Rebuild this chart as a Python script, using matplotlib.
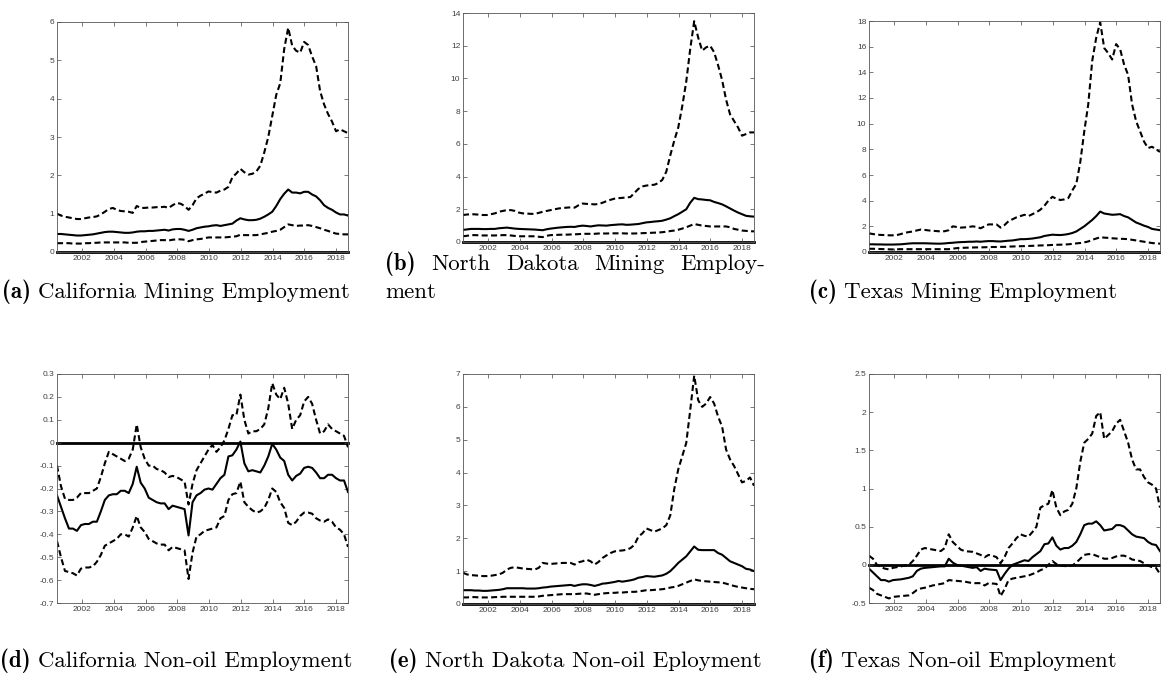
import numpy as np
import matplotlib
matplotlib.use("Agg")
import matplotlib.pyplot as plt
from matplotlib.ticker import FormatStrFormatter

plt.rcParams['axes.unicode_minus'] = False

# quarterly dates, 2000Q2 .. 2018Q3
dates = np.linspace(2000.42, 2018.75, 74)

# (a) California mining employment: upper band, median, lower band
ca_hi = [1.00, 0.95,
         0.92, 0.90, 0.88, 0.86, 0.86, 0.88, 0.90, 0.91, 0.93, 0.98, 1.05, 1.12,
         1.15, 1.10, 1.07, 1.06, 1.05, 1.02, 1.20, 1.15, 1.15, 1.16, 1.16, 1.17,
         1.17, 1.18, 1.15, 1.22, 1.28, 1.26, 1.20, 1.10, 1.22, 1.40, 1.47, 1.52,
         1.58, 1.56, 1.55, 1.60, 1.63, 1.70, 1.95, 2.05, 2.17, 2.08, 2.02, 2.04,
         2.10, 2.25, 2.60, 3.00, 3.55, 4.10, 4.40, 5.30, 5.85, 5.38, 5.25, 5.20,
         5.48, 5.40, 5.10, 4.85, 4.20, 3.85, 3.60, 3.40, 3.15, 3.20, 3.15, 3.10]
ca_md = [0.47, 0.47,
         0.46, 0.45, 0.44, 0.43, 0.43, 0.44, 0.45, 0.46, 0.48, 0.50, 0.52, 0.53,
         0.53, 0.52, 0.51, 0.50, 0.50, 0.51, 0.53, 0.54, 0.54, 0.55, 0.55, 0.56,
         0.57, 0.58, 0.56, 0.59, 0.60, 0.60, 0.58, 0.55, 0.58, 0.62, 0.64, 0.66,
         0.67, 0.69, 0.70, 0.68, 0.70, 0.72, 0.74, 0.82, 0.88, 0.85, 0.83, 0.83,
         0.84, 0.87, 0.92, 0.98, 1.05, 1.20, 1.38, 1.52, 1.63, 1.55, 1.55, 1.53,
         1.57, 1.57, 1.50, 1.45, 1.35, 1.22, 1.15, 1.10, 1.03, 0.98, 0.98, 0.95]
ca_lo = [0.23, 0.23,
         0.23, 0.23, 0.22, 0.22, 0.22, 0.23, 0.23, 0.24, 0.24, 0.25, 0.25, 0.25,
         0.25, 0.25, 0.25, 0.25, 0.24, 0.24, 0.24, 0.26, 0.27, 0.28, 0.29, 0.30,
         0.31, 0.31, 0.30, 0.32, 0.33, 0.33, 0.32, 0.28, 0.31, 0.33, 0.34, 0.36,
         0.38, 0.38, 0.38, 0.38, 0.38, 0.39, 0.40, 0.41, 0.45, 0.44, 0.44, 0.44,
         0.44, 0.46, 0.48, 0.50, 0.53, 0.55, 0.58, 0.65, 0.72, 0.70, 0.68, 0.69,
         0.69, 0.70, 0.68, 0.65, 0.62, 0.58, 0.55, 0.51, 0.48, 0.47, 0.46, 0.46]

# (b) North Dakota mining employment
nd_hi = [1.65, 1.68,
         1.70, 1.69, 1.67, 1.65, 1.65, 1.70, 1.75, 1.85, 1.90, 1.95, 1.95, 1.90,
         1.80, 1.75, 1.74, 1.72, 1.72, 1.78, 1.85, 1.90, 1.95, 2.00, 2.05, 2.08,
         2.10, 2.12, 2.10, 2.25, 2.35, 2.33, 2.32, 2.30, 2.32, 2.40, 2.50, 2.58,
         2.65, 2.68, 2.70, 2.72, 2.75, 3.00, 3.25, 3.40, 3.45, 3.48, 3.50, 3.60,
         3.80, 4.30, 5.30, 6.20, 7.00, 8.30, 9.80, 11.80, 13.50, 12.50, 11.70, 11.90,
         12.00, 11.60, 10.80, 9.90, 8.70, 7.80, 7.40, 7.00, 6.50, 6.60, 6.70, 6.70]
nd_md = [0.74, 0.77,
         0.80, 0.80, 0.80, 0.79, 0.79, 0.80, 0.80, 0.84, 0.86, 0.88, 0.85, 0.82,
         0.80, 0.79, 0.78, 0.77, 0.76, 0.74, 0.72, 0.78, 0.82, 0.85, 0.88, 0.90,
         0.92, 0.93, 0.92, 0.97, 1.00, 0.98, 0.95, 0.99, 1.02, 1.01, 1.00, 1.03,
         1.05, 1.07, 1.08, 1.05, 1.06, 1.08, 1.10, 1.15, 1.20, 1.22, 1.25, 1.27,
         1.30, 1.37, 1.45, 1.58, 1.70, 1.85, 2.00, 2.40, 2.70, 2.62, 2.60, 2.57,
         2.55, 2.45, 2.38, 2.30, 2.18, 2.05, 1.92, 1.80, 1.70, 1.60, 1.57, 1.55]
nd_lo = [0.35, 0.38,
         0.42, 0.42, 0.41, 0.40, 0.40, 0.40, 0.40, 0.41, 0.42, 0.42, 0.40, 0.37,
         0.35, 0.35, 0.35, 0.35, 0.35, 0.32, 0.30, 0.38, 0.42, 0.43, 0.44, 0.45,
         0.45, 0.46, 0.47, 0.48, 0.50, 0.50, 0.50, 0.50, 0.52, 0.52, 0.52, 0.53,
         0.53, 0.53, 0.53, 0.52, 0.52, 0.52, 0.53, 0.54, 0.55, 0.56, 0.57, 0.58,
         0.60, 0.63, 0.67, 0.70, 0.75, 0.82, 0.90, 1.00, 1.10, 1.05, 1.00, 0.98,
         0.95, 0.95, 0.95, 0.95, 0.95, 0.90, 0.80, 0.75, 0.70, 0.68, 0.66, 0.65]

# (c) Texas mining employment
tx_hi = [1.45, 1.40,
         1.35, 1.33, 1.32, 1.30, 1.30, 1.32, 1.40, 1.50, 1.55, 1.60, 1.68, 1.75,
         1.72, 1.68, 1.65, 1.63, 1.60, 1.62, 1.70, 2.00, 1.95, 1.90, 1.92, 1.95,
         2.00, 1.95, 1.85, 2.00, 2.15, 2.15, 2.15, 1.90, 2.10, 2.40, 2.55, 2.70,
         2.80, 2.90, 2.80, 2.95, 3.10, 3.30, 3.60, 4.00, 4.30, 4.15, 4.05, 4.10,
         4.20, 4.80, 5.30, 7.00, 9.40, 11.50, 14.90, 16.70, 17.90, 15.90, 15.50, 15.00,
         16.20, 15.80, 14.60, 13.80, 11.50, 10.20, 9.40, 8.60, 8.10, 8.20, 8.00, 7.80]
tx_md = [0.60, 0.60,
         0.59, 0.59, 0.58, 0.58, 0.58, 0.59, 0.60, 0.63, 0.66, 0.68, 0.68, 0.68,
         0.68, 0.67, 0.66, 0.65, 0.65, 0.67, 0.70, 0.72, 0.75, 0.77, 0.78, 0.80,
         0.80, 0.82, 0.80, 0.83, 0.85, 0.85, 0.83, 0.82, 0.85, 0.88, 0.90, 0.95,
         1.00, 1.00, 1.02, 1.05, 1.10, 1.15, 1.25, 1.30, 1.35, 1.33, 1.32, 1.35,
         1.40, 1.48, 1.60, 1.80, 2.00, 2.25, 2.50, 2.80, 3.15, 3.00, 2.95, 2.90,
         2.92, 2.95, 2.80, 2.70, 2.50, 2.30, 2.18, 2.05, 1.95, 1.80, 1.75, 1.70]
tx_lo = [0.25, 0.25,
         0.24, 0.23, 0.22, 0.21, 0.20, 0.21, 0.22, 0.22, 0.22, 0.22, 0.22, 0.22,
         0.22, 0.22, 0.22, 0.22, 0.22, 0.22, 0.22, 0.26, 0.30, 0.32, 0.33, 0.34,
         0.35, 0.36, 0.36, 0.37, 0.38, 0.39, 0.39, 0.40, 0.40, 0.42, 0.43, 0.44,
         0.45, 0.46, 0.47, 0.48, 0.50, 0.51, 0.52, 0.53, 0.55, 0.56, 0.57, 0.58,
         0.60, 0.63, 0.67, 0.70, 0.75, 0.82, 0.95, 1.05, 1.15, 1.12, 1.10, 1.07,
         1.05, 1.03, 1.02, 1.00, 0.95, 0.90, 0.85, 0.80, 0.75, 0.70, 0.67, 0.65]

# (d) California non-oil employment
ca_no_hi = [-0.10, -0.19,
            -0.245, -0.25, -0.25, -0.24, -0.22, -0.22, -0.22, -0.21, -0.20, -0.15, -0.09, -0.04,
            -0.05, -0.06, -0.07, -0.08, -0.07, -0.03, 0.08, -0.02, -0.07, -0.10, -0.10, -0.115,
            -0.12, -0.13, -0.15, -0.145, -0.15, -0.16, -0.17, -0.27, -0.18, -0.12, -0.09, -0.06,
            -0.03, -0.01, -0.04, -0.02, 0.01, 0.06, 0.12, 0.12, 0.21, 0.10, 0.04, 0.05,
            0.05, 0.06, 0.08, 0.15, 0.26, 0.21, 0.19, 0.24, 0.17, 0.06, 0.10, 0.12,
            0.18, 0.20, 0.17, 0.10, 0.04, 0.05, 0.08, 0.06, 0.05, 0.04, 0.03, -0.02]
ca_no_md = [-0.23, -0.28,
            -0.33, -0.375, -0.375, -0.385, -0.36, -0.355, -0.355, -0.345, -0.345, -0.30, -0.25, -0.23,
            -0.225, -0.225, -0.21, -0.21, -0.22, -0.18, -0.105, -0.175, -0.20, -0.24, -0.25, -0.26,
            -0.265, -0.265, -0.29, -0.275, -0.28, -0.285, -0.29, -0.405, -0.26, -0.23, -0.22, -0.205,
            -0.20, -0.205, -0.18, -0.155, -0.14, -0.06, -0.055, -0.03, 0.005, -0.09, -0.125, -0.12,
            -0.125, -0.13, -0.10, -0.06, -0.005, -0.03, -0.065, -0.08, -0.14, -0.165, -0.145, -0.135,
            -0.11, -0.105, -0.11, -0.13, -0.155, -0.155, -0.14, -0.14, -0.155, -0.165, -0.165, -0.215]
ca_no_lo = [-0.43, -0.50,
            -0.56, -0.565, -0.57, -0.58, -0.55, -0.545, -0.545, -0.54, -0.52, -0.49, -0.45, -0.44,
            -0.43, -0.42, -0.40, -0.40, -0.41, -0.37, -0.32, -0.37, -0.39, -0.42, -0.43, -0.44,
            -0.445, -0.445, -0.47, -0.455, -0.46, -0.465, -0.47, -0.595, -0.48, -0.41, -0.40, -0.385,
            -0.38, -0.375, -0.37, -0.33, -0.32, -0.25, -0.225, -0.22, -0.17, -0.26, -0.28, -0.295,
            -0.305, -0.30, -0.285, -0.25, -0.20, -0.215, -0.26, -0.285, -0.35, -0.36, -0.345, -0.32,
            -0.305, -0.305, -0.31, -0.33, -0.34, -0.345, -0.335, -0.345, -0.37, -0.38, -0.40, -0.455]

# (e) North Dakota non-oil employment
nd_no_hi = [0.95, 0.90,
            0.88, 0.87, 0.86, 0.85, 0.85, 0.86, 0.88, 0.90, 0.95, 1.05, 1.10, 1.12,
            1.10, 1.08, 1.07, 1.06, 1.05, 1.10, 1.25, 1.23, 1.22, 1.23, 1.24, 1.25,
            1.25, 1.25, 1.20, 1.27, 1.30, 1.35, 1.30, 1.20, 1.28, 1.40, 1.48, 1.55,
            1.60, 1.62, 1.63, 1.65, 1.70, 1.80, 2.05, 2.15, 2.30, 2.25, 2.20, 2.25,
            2.30, 2.40, 2.70, 3.50, 4.10, 4.50, 4.90, 5.90, 6.95, 6.20, 6.00, 6.10,
            6.30, 6.10, 5.70, 5.40, 4.70, 4.40, 4.20, 3.95, 3.70, 3.75, 3.85, 3.60]
nd_no_md = [0.42, 0.42,
            0.42, 0.41, 0.41, 0.40, 0.40, 0.41, 0.42, 0.43, 0.45, 0.48, 0.48, 0.48,
            0.48, 0.48, 0.47, 0.47, 0.47, 0.48, 0.50, 0.51, 0.53, 0.54, 0.55, 0.56,
            0.57, 0.58, 0.55, 0.58, 0.60, 0.60, 0.58, 0.55, 0.58, 0.62, 0.63, 0.65,
            0.67, 0.70, 0.68, 0.70, 0.72, 0.75, 0.80, 0.82, 0.85, 0.84, 0.83, 0.85,
            0.87, 0.92, 1.00, 1.12, 1.25, 1.35, 1.45, 1.60, 1.75, 1.65, 1.64, 1.64,
            1.64, 1.64, 1.55, 1.50, 1.40, 1.30, 1.25, 1.20, 1.15, 1.07, 1.05, 1.00]
nd_no_lo = [0.20, 0.20,
            0.21, 0.21, 0.20, 0.20, 0.20, 0.20, 0.21, 0.21, 0.22, 0.22, 0.22, 0.22,
            0.22, 0.22, 0.22, 0.22, 0.22, 0.23, 0.25, 0.26, 0.27, 0.28, 0.29, 0.30,
            0.30, 0.30, 0.30, 0.31, 0.32, 0.32, 0.30, 0.28, 0.30, 0.32, 0.33, 0.34,
            0.34, 0.35, 0.35, 0.36, 0.37, 0.37, 0.38, 0.40, 0.42, 0.42, 0.43, 0.44,
            0.45, 0.47, 0.50, 0.52, 0.55, 0.60, 0.65, 0.70, 0.75, 0.72, 0.70, 0.69,
            0.68, 0.67, 0.66, 0.65, 0.62, 0.58, 0.55, 0.52, 0.50, 0.48, 0.46, 0.45]

# (f) Texas non-oil employment
tx_no_hi = [0.12, 0.08,
            0.00, -0.03, -0.05, -0.06, -0.04, -0.03, -0.02, -0.01, 0.00, 0.05, 0.12, 0.20,
            0.22, 0.21, 0.20, 0.19, 0.18, 0.22, 0.40, 0.30, 0.25, 0.20, 0.18, 0.175,
            0.17, 0.15, 0.13, 0.10, 0.13, 0.12, 0.10, 0.02, 0.10, 0.22, 0.28, 0.35,
            0.40, 0.38, 0.37, 0.43, 0.50, 0.75, 0.78, 0.80, 0.98, 0.75, 0.65, 0.70,
            0.72, 0.80, 1.00, 1.35, 1.60, 1.65, 1.72, 1.95, 2.00, 1.65, 1.70, 1.75,
            1.85, 1.90, 1.75, 1.60, 1.38, 1.25, 1.25, 1.15, 1.08, 1.05, 1.00, 0.75]
tx_no_md = [-0.05, -0.10,
            -0.15, -0.20, -0.20, -0.22, -0.20, -0.195, -0.19, -0.18, -0.17, -0.15, -0.08, -0.05,
            -0.04, -0.035, -0.03, -0.025, -0.02, -0.02, 0.08, 0.03, 0.00, -0.01, -0.02, -0.03,
            -0.04, -0.03, -0.08, -0.05, -0.06, -0.065, -0.07, -0.20, -0.12, -0.05, 0.00, 0.02,
            0.04, 0.06, 0.05, 0.10, 0.14, 0.18, 0.27, 0.28, 0.36, 0.25, 0.20, 0.22,
            0.22, 0.25, 0.30, 0.40, 0.52, 0.54, 0.54, 0.57, 0.52, 0.45, 0.46, 0.47,
            0.52, 0.52, 0.50, 0.45, 0.40, 0.37, 0.36, 0.35, 0.30, 0.27, 0.26, 0.18]
tx_no_lo = [-0.30, -0.33,
            -0.38, -0.40, -0.42, -0.44, -0.42, -0.415, -0.41, -0.405, -0.40, -0.37, -0.33, -0.31,
            -0.30, -0.285, -0.27, -0.26, -0.25, -0.24, -0.20, -0.205, -0.21, -0.215, -0.22, -0.23,
            -0.24, -0.24, -0.24, -0.27, -0.24, -0.245, -0.25, -0.41, -0.32, -0.20, -0.18, -0.17,
            -0.16, -0.15, -0.14, -0.12, -0.10, -0.07, -0.05, 0.00, 0.05, 0.01, -0.01, -0.015,
            -0.02, -0.01, 0.03, 0.08, 0.13, 0.14, 0.14, 0.12, 0.10, 0.08, 0.08, 0.09,
            0.11, 0.12, 0.12, 0.10, 0.07, 0.06, 0.05, 0.02, -0.01, -0.03, -0.04, -0.12]

panels = [
    (ca_hi, ca_md, ca_lo, (0, 6), np.arange(0, 7, 1)),
    (nd_hi, nd_md, nd_lo, (0, 14), np.arange(0, 15, 2)),
    (tx_hi, tx_md, tx_lo, (0, 18), np.arange(0, 19, 2)),
    (ca_no_hi, ca_no_md, ca_no_lo, (-0.7, 0.3), np.arange(-7, 4) / 10),
    (nd_no_hi, nd_no_md, nd_no_lo, (0, 7), np.arange(0, 8, 1)),
    (tx_no_hi, tx_no_md, tx_no_lo, (-0.5, 2.5), np.arange(-1, 6) / 2),
]

# axes boxes in pixels: left, top, right, bottom
boxes = [(57, 22, 348, 252), (463, 13, 754, 242), (869, 21, 1160, 252),
         (57, 374, 348, 603), (463, 374, 754, 604), (869, 374, 1160, 603)]

W, H = 1161, 681
fig = plt.figure(figsize=(W / 100, H / 100), dpi=100)

dash = (0, (2.9, 1.6))
for (hi, md, lo, ylim, yticks), (l, t, r, b) in zip(panels, boxes):
    ax = fig.add_axes([l / W, 1 - b / H, (r - l) / W, (b - t) / H])
    ax.axhline(0, color='black', lw=2.0, clip_on=False, zorder=1)
    ax.plot(dates, hi, color='black', lw=1.5, linestyle=dash)
    ax.plot(dates, md, color='black', lw=1.5)
    ax.plot(dates, lo, color='black', lw=1.5, linestyle=dash)
    ax.set_xlim(2000.42, 2018.75)
    ax.set_ylim(*ylim)
    ax.set_xticks(np.arange(2002, 2019, 2))
    ax.set_yticks(yticks)
    ax.yaxis.set_major_formatter(FormatStrFormatter('%g'))
    ax.tick_params(direction='in', length=3, width=0.5, top=True, right=True,
                   color='#444444', labelcolor='#404040', labelsize=6, pad=2,
                   labelfontfamily='Liberation Sans')
    for s in ax.spines.values():
        s.set_color('#555555')
        s.set_linewidth(0.6)

# captions in Computer Modern, bold label + regular text
fs = 16.5
rend = fig.canvas.get_renderer()

def width(s, fam):
    t = fig.text(0, 0, s, fontfamily=fam, fontsize=fs)
    w = t.get_window_extent(rend).width
    t.remove()
    return w

space = width('a a', 'cmr10') - width('aa', 'cmr10')

def put(x, y, s, fam):
    fig.text(x / W, 1 - y / H, s, fontfamily=fam, fontsize=fs,
             ha='left', va='center')

def caption(cx, y, tag, text):
    lab = '(' + tag + ')'
    total = width(lab, 'cmb10') + space + width(text, 'cmr10')
    x0 = cx - total / 2
    put(x0, y, lab, 'cmb10')
    put(x0 + width(lab, 'cmb10') + space, y, text, 'cmr10')

col_w = 380
col_left = [-14, 385, 773]
centers = [c + col_w / 2 for c in col_left]

caption(centers[0], 292, 'a', 'California Mining Employment')
caption(centers[2], 292, 'c', 'Texas Mining Employment')
caption(centers[0], 661, 'd', 'California Non-oil Employment')
caption(centers[1], 661, 'e', 'North Dakota Non-oil Eployment')
caption(centers[2], 661, 'f', 'Texas Non-oil Employment')

# caption (b) wraps: first line justified over the column width
words = [('(b)', 'cmb10'), ('North', 'cmr10'), ('Dakota', 'cmr10'),
         ('Mining', 'cmr10'), ('Employ-', 'cmr10')]
ws = [width(w, f) for w, f in words]
gap = (col_w - sum(ws)) / (len(words) - 1)
x = col_left[1]
for (w, f), wd in zip(words, ws):
    put(x, 264, w, f)
    x += wd + gap
put(col_left[1], 292, 'ment', 'cmr10')

plt.savefig('out.png', dpi=100)
